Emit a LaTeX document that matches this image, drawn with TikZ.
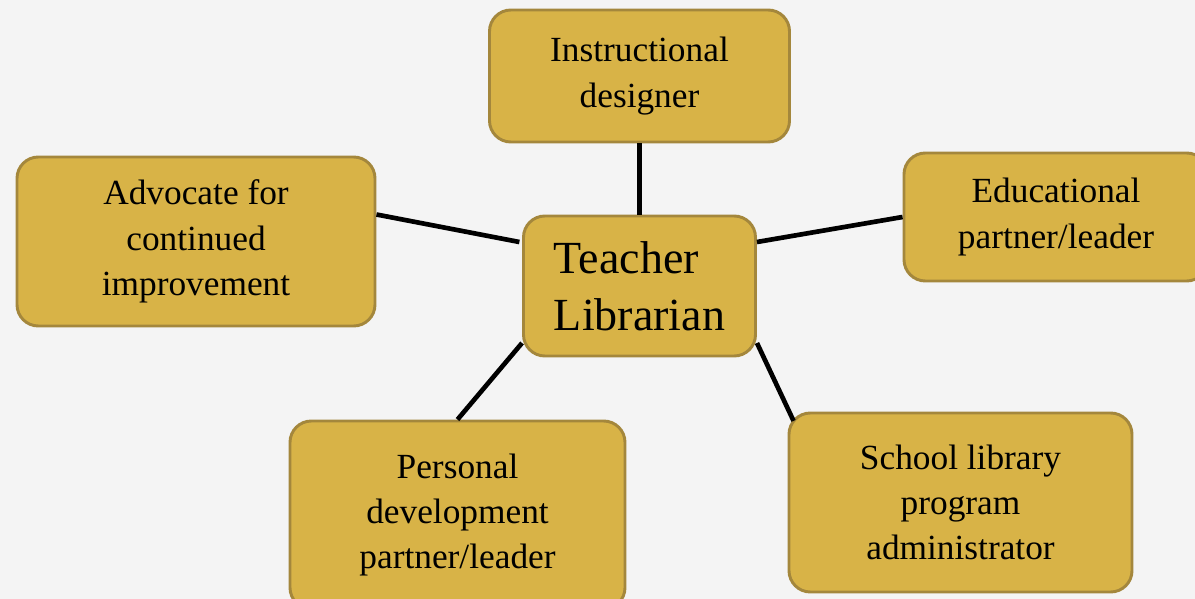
\documentclass[tikz,border=0pt]{standalone}
\usepackage{fontspec}
\setmainfont{Liberation Serif}
\definecolor{boxfill}{HTML}{D8B347}
\definecolor{boxline}{HTML}{A4873C}
\definecolor{bg}{HTML}{F4F4F4}
\tikzset{
  role/.style={draw=boxline, line width=2.2pt, fill=boxfill, rounded corners=16pt,
    align=center, font=\fontsize{26.5}{34}\selectfont, inner sep=0pt},
  hub/.style={role, align=left, font=\fontsize{34.5}{43}\selectfont},
  link/.style={line width=3.5pt, black}
}
\begin{document}
\begin{tikzpicture}[x=0.75pt,y=-0.75pt]
\fill[bg] (0,0) rectangle (1195,599);
\useasboundingbox (0,0) rectangle (1195,599);
\clip (0,0) rectangle (1195,599);
\node[role, minimum width=225pt, minimum height=99pt] (ins) at (639.5,76) {Instructional\\designer};
\node[hub, minimum width=174pt, minimum height=105pt] (tl) at (639.5,286) {Teacher\\Librarian};
\node[role, minimum width=228pt, minimum height=96pt] (edu) at (1056,217) {Educational\\partner/leader};
\node[role, minimum width=268.5pt, minimum height=126.75pt] (adv) at (196,241.5) {Advocate for\\continued\\improvement};
\node[role, minimum width=251.25pt, minimum height=141pt] (pd) at (457.5,515) {Personal\\development\\partner/leader};
\node[role, minimum width=257.25pt, minimum height=134.25pt] (sl) at (960.5,502.5) {School library\\program\\administrator};
\draw[link] (ins.south) -- (tl.north);
\draw[link] ([yshift=20.25pt]adv.east) -- ([xshift=-2pt,yshift=33pt]tl.west);
\draw[link] ([yshift=33pt]tl.east) -- (edu.west);
\draw[link] ([yshift=-42.75pt]tl.west) -- (pd.north);
\draw[link] ([yshift=-42.75pt]tl.east) -- ([xshift=4.5pt,yshift=-7pt]sl.north west);
\end{tikzpicture}
\end{document}
